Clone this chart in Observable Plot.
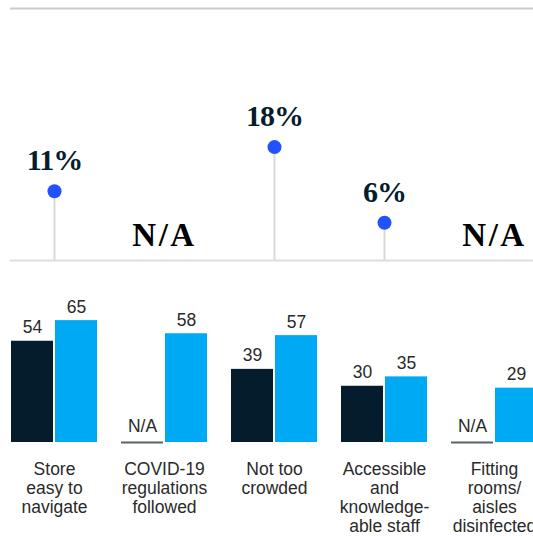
<!DOCTYPE html>
<html>
<head>
<meta charset="utf-8">
<script src="https://cdn.jsdelivr.net/npm/d3@7"></script>
<script src="https://cdn.jsdelivr.net/npm/@observablehq/plot@0.6"></script>
<style>
  html, body { margin: 0; padding: 0; background: #fff; overflow: hidden; }
  #chart svg { display: block; overflow: hidden; }
</style>
</head>
<body>
<div id="chart"></div>
<script>
// ---- Data ----
const categories = [
  "Store easy to navigate",
  "COVID-19 regulations followed",
  "Not too crowded",
  "Accessible and knowledgeable staff",
  "Fitting rooms/aisles disinfected"
];
const categoryLabels = [
  "Store\neasy to\nnavigate",
  "COVID-19\nregulations\nfollowed",
  "Not too\ncrowded",
  "Accessible\nand\nknowledge-\nable staff",
  "Fitting\nrooms/\naisles\ndisinfected"
];
const changePct = [11, null, 18, 6, null];      // % change (lollipops)
const priorValues = [54, null, 39, 30, null];   // dark bars
const currentValues = [65, 58, 57, 35, 29];     // blue bars

// ---- Derived tables ----
const change = categories.map((cat, i) => ({cat, value: changePct[i]}));
const changeKnown = change.filter(d => d.value != null);
const changeNA = change.filter(d => d.value == null);
const prior = categories.map((cat, i) => ({cat, value: priorValues[i]}));
const priorKnown = prior.filter(d => d.value != null);
const priorNA = prior.filter(d => d.value == null);
const current = categories.map((cat, i) => ({cat, value: currentValues[i]}));
const labels = categories.map((cat, i) => ({cat, label: categoryLabels[i]}));

const serif = "'Liberation Serif', 'Times New Roman', serif";
const sans = "'Liberation Sans', Arial, sans-serif";
const navy = "#051c2c";
const xScale = () => ({type: "band", domain: categories, range: [-1, 549], padding: 0, axis: null});

const lollipopChart = Plot.plot({
  width: 533, height: 270,
  marginLeft: 10, marginRight: 0, marginTop: 0, marginBottom: 0,
  x: xScale(),
  y: {domain: [0, 40], range: [260, 8], axis: null},
  marks: [
    Plot.ruleY([40], {stroke: "#cccccc", strokeWidth: 2}),
    Plot.ruleY([0], {stroke: "#dddddd", strokeWidth: 2}),
    Plot.ruleX(changeKnown, {x: "cat", y1: 0, y2: "value", stroke: "#d9d9d9", strokeWidth: 2}),
    Plot.dot(changeKnown, {x: "cat", y: "value", r: 7, fill: "#2251ff", stroke: "none"}),
    Plot.text(changeKnown, {x: "cat", y: "value", text: d => d.value + "%", dy: -21, lineAnchor: "bottom",
      fontFamily: serif, fontWeight: "bold", fontSize: 30, fill: navy}),
    Plot.text(changeNA, {x: "cat", y: () => 0, text: () => "N/A", dy: -15, lineAnchor: "bottom",
      fontFamily: serif, fontWeight: "bold", fontSize: 33, fill: "#000"})
  ]
});
// letter spacing tweaks to match the reference's serif proportions
d3.select(lollipopChart).selectAll("text")
  .each(function() {
    const t = this.textContent;
    if (t === "N/A") d3.select(this).style("letter-spacing", "2.5px");
    else if (t.endsWith("%")) d3.select(this).style("letter-spacing", "-1px");
  });

const barChart = Plot.plot({
  width: 533, height: 266,
  marginLeft: 0, marginRight: 0, marginTop: 0, marginBottom: 0,
  x: xScale(),
  y: {domain: [0, 80], range: [172, 22], axis: null},
  marks: [
    Plot.barY(priorKnown, {x: "cat", y: "value", fill: navy, insetLeft: 12, insetRight: 56}),
    Plot.barY(current, {x: "cat", y: "value", fill: "#00a9f4", insetLeft: 56, insetRight: 12}),
    Plot.tickY(priorNA, {x: "cat", y: () => 0, stroke: "#56636e", strokeWidth: 2, insetLeft: 12, insetRight: 56}),
    Plot.text(priorKnown, {x: "cat", y: "value", text: d => String(d.value), dx: -22, dy: -8, lineAnchor: "bottom",
      fontFamily: sans, fontSize: 17.5, fill: "#2a2a2a"}),
    Plot.text(priorNA, {x: "cat", y: () => 0, text: () => "N/A", dx: -22, dy: -11, lineAnchor: "bottom",
      fontFamily: sans, fontSize: 17.5, fill: "#2a2a2a"}),
    Plot.text(current, {x: "cat", y: "value", text: d => String(d.value), dx: 22, dy: -8, lineAnchor: "bottom",
      fontFamily: sans, fontSize: 17.5, fill: "#2a2a2a"}),
    Plot.text(labels, {x: "cat", y: () => 0, text: "label", dy: 19, lineAnchor: "top", lineHeight: 1.086,
      fontFamily: sans, fontSize: 17.5, fill: "#2a2a2a"})
  ]
});

document.getElementById("chart").append(lollipopChart, barChart);
</script>
</body>
</html>
